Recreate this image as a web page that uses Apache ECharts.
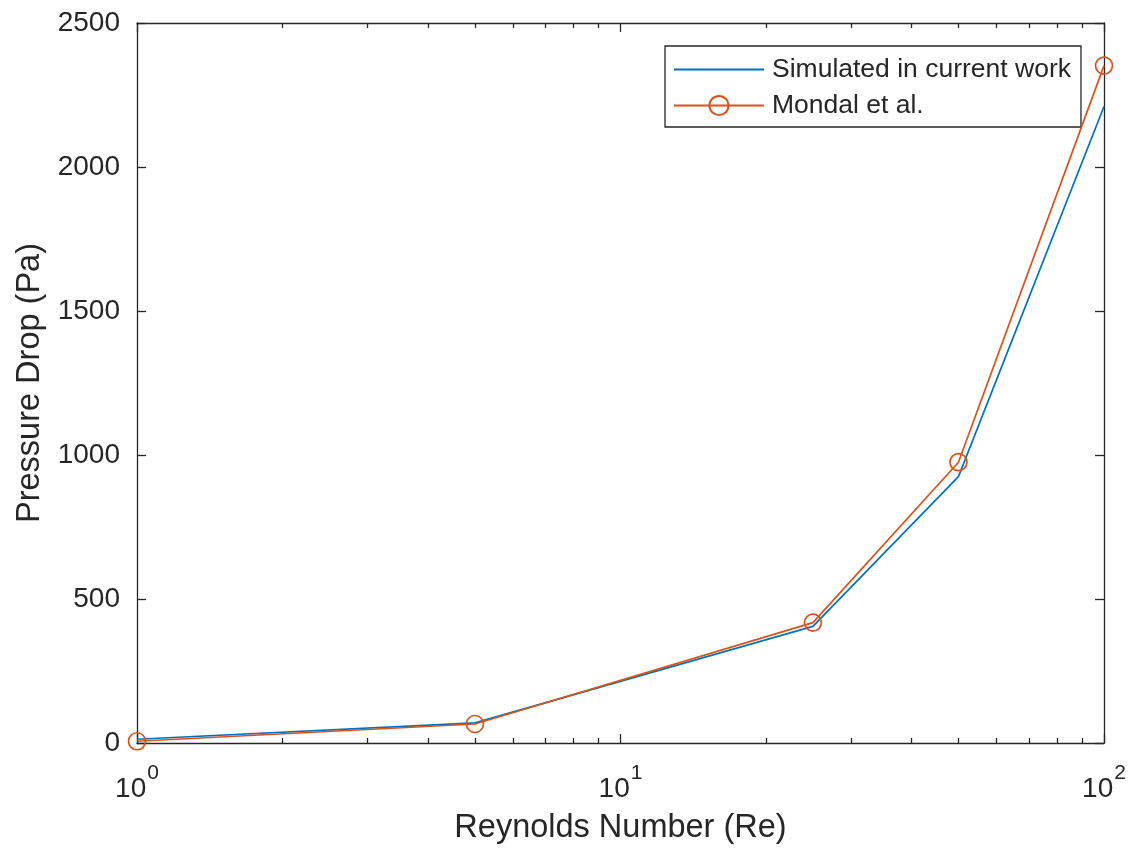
<!DOCTYPE html>
<html>
<head>
<meta charset="utf-8">
<script src="https://cdn.jsdelivr.net/npm/echarts@6/dist/echarts.min.js"></script>
<style>
  html, body { margin: 0; padding: 0; background: #ffffff; }
  #chart { width: 1132px; height: 850px; }
</style>
</head>
<body>
<div id="chart"></div>
<script>
// Reynolds numbers of the test cases
const reynolds = [1, 5, 25, 50, 100];
// Pressure drop (Pa) from the present simulations
const simulated = [13, 70, 405, 925, 2210];
// Pressure drop (Pa) reported by Mondal et al.
const mondal = [6, 66, 418, 975, 2352];
// Axis settings
const yTicks = [0, 500, 1000, 1500, 2000, 2500];
const xMajor = [1, 10, 100];
const xMinor = [2, 3, 4, 5, 6, 7, 8, 9, 20, 30, 40, 50, 60, 70, 80, 90];
const seriesNames = ['Simulated in current work', 'Mondal et al.'];

const AX = '#262626';
const FONT = '"Liberation Sans", Arial, Helvetica, sans-serif';
const TICK_FS = 28;

const chart = echarts.init(document.getElementById('chart'), null, { renderer: 'canvas' });

const baseX = {
  type: 'log', logBase: 10, min: 1, max: 100, gridIndex: 0,
  splitLine: { show: false }, minorTick: { show: false }, minorSplitLine: { show: false }
};

const option = {
  backgroundColor: '#ffffff',
  animation: false,
  grid: { left: 137, top: 23, right: 28, bottom: 107, containLabel: false },
  legend: {
    data: seriesNames,
    orient: 'vertical',
    left: 665, top: 46,
    align: 'left',
    itemWidth: 90, itemHeight: 24, itemGap: 9,
    padding: [10, 10, 8, 8],
    backgroundColor: '#ffffff',
    borderColor: AX, borderWidth: 1.3,
    textStyle: { fontFamily: FONT, fontSize: 26.5, color: AX, padding: [0, 0, 0, 3] }
  },
  xAxis: [
    Object.assign({}, baseX, {
      position: 'bottom',
      name: 'Reynolds Number (Re)', nameLocation: 'middle', nameGap: 69,
      nameTextStyle: { fontFamily: FONT, fontSize: 32.5, color: AX },
      axisLine: { show: true, lineStyle: { color: AX, width: 1.3 } },
      axisTick: { show: true, inside: true, length: 9, customValues: xMajor, lineStyle: { color: AX, width: 1.3 } },
      axisLabel: {
        show: true, margin: 20, customValues: xMajor,
        formatter: v => '{b|10}{s|' + Math.round(Math.log10(v)) + '}',
        rich: {
          b: { fontFamily: FONT, fontSize: TICK_FS, color: AX, verticalAlign: 'bottom' },
          s: { fontFamily: FONT, fontSize: 21, color: AX, verticalAlign: 'bottom', padding: [0, 0, 19, 1] }
        }
      }
    }),
    Object.assign({}, baseX, {
      position: 'bottom',
      axisLine: { show: false },
      axisTick: { show: true, inside: true, length: 5, customValues: xMinor, lineStyle: { color: AX, width: 1.3 } },
      axisLabel: { show: false }
    }),
    Object.assign({}, baseX, {
      position: 'top',
      axisLine: { show: true, lineStyle: { color: AX, width: 1.3 } },
      axisTick: { show: true, inside: true, length: 9, customValues: xMajor, lineStyle: { color: AX, width: 1.3 } },
      axisLabel: { show: false }
    }),
    Object.assign({}, baseX, {
      position: 'top',
      axisLine: { show: false },
      axisTick: { show: true, inside: true, length: 5, customValues: xMinor, lineStyle: { color: AX, width: 1.3 } },
      axisLabel: { show: false }
    })
  ],
  yAxis: [
    {
      type: 'value', position: 'left', min: 0, max: 2500, interval: 500,
      name: 'Pressure Drop (Pa)', nameLocation: 'middle', nameGap: 88,
      nameTextStyle: { fontFamily: FONT, fontSize: 32.5, color: AX },
      axisLine: { show: true, lineStyle: { color: AX, width: 1.3 } },
      axisTick: { show: true, inside: true, length: 9, customValues: yTicks, lineStyle: { color: AX, width: 1.3 } },
      axisLabel: {
        show: true, margin: 17, fontFamily: FONT, fontSize: TICK_FS, color: AX, customValues: yTicks,
        formatter: v => String(v)
      },
      splitLine: { show: false }
    },
    {
      type: 'value', position: 'right', min: 0, max: 2500, interval: 500,
      axisLine: { show: true, lineStyle: { color: AX, width: 1.3 } },
      axisTick: { show: true, inside: true, length: 9, customValues: yTicks, lineStyle: { color: AX, width: 1.3 } },
      axisLabel: { show: false },
      splitLine: { show: false }
    }
  ],
  series: [
    {
      name: seriesNames[0], type: 'line', xAxisIndex: 0, yAxisIndex: 0,
      data: reynolds.map((r, i) => [r, simulated[i]]),
      symbol: 'none',
      lineStyle: { color: '#0072BD', width: 1.7 },
      itemStyle: { color: 'rgba(0,0,0,0)', borderWidth: 0 },
      z: 3
    },
    {
      name: seriesNames[1], type: 'line', xAxisIndex: 0, yAxisIndex: 0,
      data: reynolds.map((r, i) => [r, mondal[i]]),
      symbol: 'circle', symbolSize: 17,
      lineStyle: { color: '#D95319', width: 1.7 },
      itemStyle: { color: 'rgba(255,255,255,0)', borderColor: '#D95319', borderWidth: 1.7 },
      z: 4
    }
  ]
};

chart.setOption(option);
</script>
</body>
</html>
